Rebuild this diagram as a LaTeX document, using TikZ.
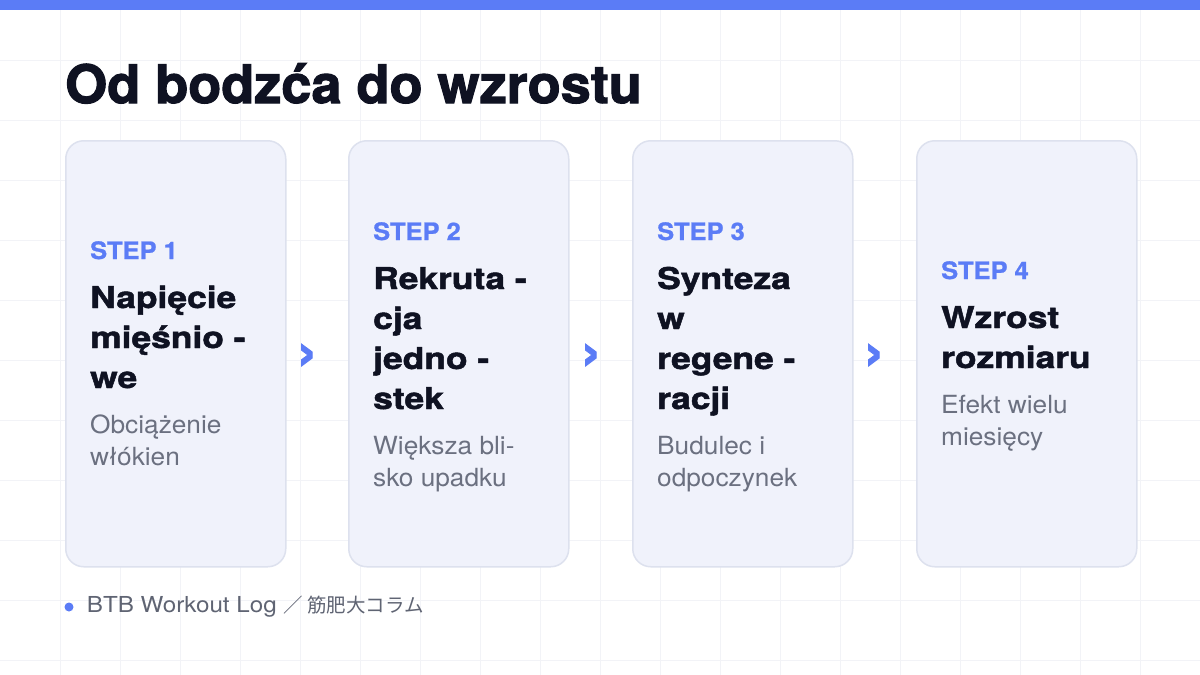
\documentclass[tikz,border=0pt]{standalone}
\usepackage{fontspec}
\setmainfont{TeX Gyre Heros}
\newfontfamily\titlefont{texgyreheros-bold.otf}[FakeBold=2, FakeStretch=1.02]
\newfontfamily\headfont{texgyreheros-bold.otf}[FakeBold=1.6, FakeStretch=1.18]
\newfontfamily\lblfont{texgyreheros-bold.otf}[FakeBold=1, FakeStretch=1.06]
\newfontfamily\bodyfont{texgyreheros-regular.otf}[FakeStretch=1.05]
\newfontfamily\footfont{texgyreheros-regular.otf}[FakeStretch=1.1]
\newfontfamily\jpfont{Noto Sans CJK JP}
\usepackage{xcolor}
\usetikzlibrary{positioning}
\definecolor{accent}{HTML}{5B7CF6}
\definecolor{ink}{HTML}{0F1222}
\definecolor{muted}{HTML}{6B7080}
\definecolor{footink}{HTML}{5F6473}
\definecolor{cardfill}{HTML}{F0F2FB}
\definecolor{cardline}{HTML}{DDE1EE}
\definecolor{gridcol}{HTML}{F2F3F7}
\tikzset{
  card/.style={
    draw=cardline,
    fill=cardfill,
    line width=1.5pt,
    rounded corners=18pt,
    minimum width=220pt,
    minimum height=426pt,
    anchor=north west,
    inner sep=0pt
  },
  steplbl/.style={
    anchor=base west,
    inner sep=0pt,
    text=accent,
    font=\fontsize{24}{28}\lblfont
  },
  stephead/.style={
    anchor=base west,
    inner sep=0pt,
    align=left,
    text=ink,
    font=\fontsize{30}{40}\headfont
  },
  stepdesc/.style={
    anchor=base west,
    inner sep=0pt,
    align=left,
    text=muted,
    font=\fontsize{25}{32}\bodyfont
  },
  chev/.style={
    inner sep=0pt,
    text=accent,
    font=\fontsize{54}{54}\headfont
  }
}

\begin{document}
\begin{tikzpicture}[x=1pt,y=-1pt]
  \useasboundingbox (0,0) rectangle (1200,675);
  \fill[white] (0,0) rectangle (1200,675);

  % faint grid
  \foreach \gx in {60,120,...,1140}
    \draw[gridcol, line width=1pt] (\gx,10) -- (\gx,675);
  \foreach \gy in {60,120,...,660}
    \draw[gridcol, line width=1pt] (0,\gy) -- (1200,\gy);

  \fill[accent] (0,0) rectangle (1200,10);

  \node[anchor=base west, inner sep=0pt, text=ink,
        font=\fontsize{53}{60}\titlefont] (title) at (65,103) {Od bodzća do wzrostu};

  % cards
  \node[card] (c1) at (65,140) {};
  \node[card] (c2) at (348,140) {};
  \node[card] (c3) at (632,140) {};
  \node[card] (c4) at (916,140) {};

  % multi-line nodes sit on the baseline of their last line
  \node[steplbl] (s1) at (90,259) {STEP 1};
  \node[stephead] (h1) at (90,388) {Napięcie\\mięśnio -\\we};
  \node[stepdesc] (d1) at (90,465) {Obciążenie\\włókien};

  \node[steplbl] (s2) at (373,240) {STEP 2};
  \node[stephead] (h2) at (373,409) {Rekruta -\\cja\\jedno -\\stek};
  \node[stepdesc] (d2) at (373,486) {Większa bli-\\sko upadku};

  \node[steplbl] (s3) at (657,240) {STEP 3};
  \node[stephead] (h3) at (657,409) {Synteza\\w\\regene -\\racji};
  \node[stepdesc] (d3) at (657,486) {Budulec i\\odpoczynek};

  \node[steplbl] (s4) at (941,279) {STEP 4};
  \node[stephead] (h4) at (941,368) {Wzrost\\rozmiaru};
  \node[stepdesc] (d4) at (941,445) {Efekt wielu\\miesięcy};

  % chevrons between cards
  \node[chev] (a12) at (307,357) {›};
  \node[chev] (a23) at (591,357) {›};
  \node[chev] (a34) at (874,357) {›};

  % footer
  \node[circle, fill=accent, minimum size=9pt, inner sep=0pt] (dot) at (69,607) {};
  \node[right=13pt of dot, inner sep=0pt, text=footink,
        font=\fontsize{22}{26}\footfont] (foot) {BTB Workout Log\hspace{7pt}{\jpfont\fontsize{19.5}{24}\selectfont ／\hspace{4pt}筋肥大コラム}};
\end{tikzpicture}
\end{document}
